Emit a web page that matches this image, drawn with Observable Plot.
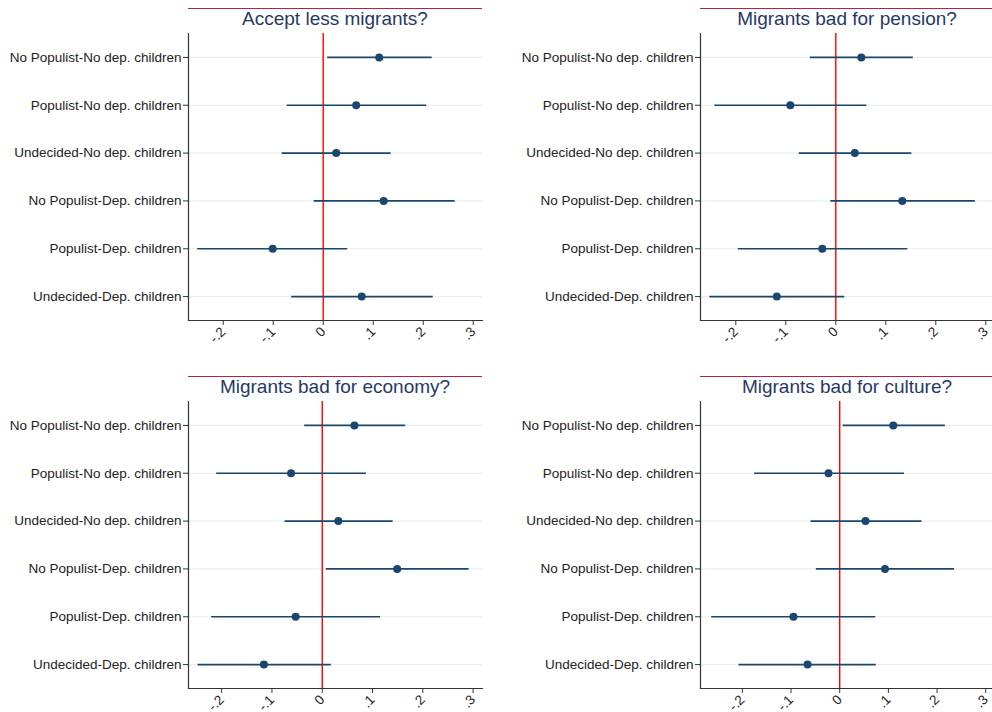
<!DOCTYPE html>
<html>
<head>
<meta charset="utf-8">
<script src="https://cdn.jsdelivr.net/npm/d3@7"></script>
<script src="https://cdn.jsdelivr.net/npm/@observablehq/plot@0.6"></script>
<style>
  html, body { margin: 0; padding: 0; background: #fff; }
  #root { position: relative; width: 992px; height: 712px; overflow: hidden; background: #fff;
          font-family: "Liberation Sans", Arial, sans-serif; }
  .panel { position: absolute; }
  .title { position: absolute; width: 294px; border-top: 1.5px solid #b8203f; text-align: center;
           font-size: 19px; line-height: 19px; color: #243a66; font-family: "Liberation Sans", Arial, sans-serif; }
</style>
</head>
<body>
<div id="root"></div>
<script>
// Categories (top to bottom)
const categories = [
  "No Populist-No dep. children",
  "Populist-No dep. children",
  "Undecided-No dep. children",
  "No Populist-Dep. children",
  "Populist-Dep. children",
  "Undecided-Dep. children"
];

// Panel titles
const titles = [
  "Accept less migrants?",
  "Migrants bad for pension?",
  "Migrants bad for economy?",
  "Migrants bad for culture?"
];

// Accept less migrants?
const acceptEst = [0.112, 0.066, 0.026, 0.121, -0.101, 0.077];
const acceptLo  = [0.008, -0.073, -0.083, -0.019, -0.252, -0.064];
const acceptHi  = [0.217, 0.206, 0.135, 0.263, 0.048, 0.219];

// Migrants bad for pension?
const pensionEst = [0.051, -0.091, 0.038, 0.133, -0.027, -0.118];
const pensionLo  = [-0.052, -0.243, -0.074, -0.011, -0.196, -0.253];
const pensionHi  = [0.154, 0.061, 0.151, 0.278, 0.143, 0.017];

// Migrants bad for economy?
const economyEst = [0.064, -0.062, 0.032, 0.149, -0.053, -0.116];
const economyLo  = [-0.036, -0.211, -0.075, 0.007, -0.221, -0.248];
const economyHi  = [0.165, 0.087, 0.140, 0.291, 0.115, 0.017];

// Migrants bad for culture?
const cultureEst = [0.110, -0.023, 0.053, 0.093, -0.095, -0.066];
const cultureLo  = [0.006, -0.176, -0.060, -0.049, -0.264, -0.208];
const cultureHi  = [0.216, 0.132, 0.168, 0.235, 0.073, 0.074];

// X tick values and labels
const xTicks = [-0.2, -0.1, 0, 0.1, 0.2, 0.3];
const xTickLabels = ["-.2", "-.1", "0", ".1", ".2", ".3"];

const navy = "#1a476f";

function panel(title, est, lo, hi, xDomain, left, top) {
  const rows = categories.map((c, i) => ({cat: c, est: est[i], lo: lo[i], hi: hi[i]}));
  const chart = Plot.plot({
    width: 496,
    height: 345,
    marginLeft: 188,
    marginRight: 14,
    marginTop: 33,
    marginBottom: 25,
    style: {fontFamily: "'Liberation Sans', Arial, sans-serif", fontSize: "13.5px", color: "#222", background: "transparent"},
    x: {domain: xDomain},
    y: {type: "point", domain: categories, padding: 0.5, round: false},
    marks: [
      Plot.ruleY(categories, {y: d => d, stroke: "#e6eff1", strokeWidth: 1.2}),
      Plot.ruleX([0], {stroke: "red", strokeWidth: 1.4}),
      Plot.link(rows, {x1: "lo", x2: "hi", y1: "cat", y2: "cat", stroke: navy, strokeWidth: 1.6}),
      Plot.dot(rows, {x: "est", y: "cat", r: 4, fill: navy, stroke: "none"}),
      Plot.frame({anchor: "left", stroke: "#333", strokeWidth: 1.2}),
      Plot.frame({anchor: "bottom", stroke: "#333", strokeWidth: 1.2}),
      Plot.axisY({tickSize: 5, tickPadding: 2, fontSize: 13.5, stroke: "#333", fill: "#222", label: null}),
      Plot.axisX({ticks: xTicks, tickFormat: (d) => xTickLabels[xTicks.indexOf(d)] ?? "",
                  tickSize: 5, tickPadding: 4, tickRotate: -45, fontSize: 13.5, stroke: "#333", fill: "#222",
                  label: null})
    ]
  });
  chart.classList.add("panel");
  chart.style.left = left + "px";
  chart.style.top = top + "px";
  const root = document.getElementById("root");
  root.appendChild(chart);
  const t = document.createElement("div");
  t.className = "title";
  t.textContent = title;
  t.style.left = (left + 188) + "px";
  t.style.top = (top + 8) + "px";
  root.appendChild(t);
}

panel(titles[0], acceptEst, acceptLo, acceptHi, [-0.2694, 0.3186], 0, 0);
panel(titles[1], pensionEst, pensionLo, pensionHi, [-0.2706, 0.3174], 512, 0);
panel(titles[2], economyEst, economyLo, economyHi, [-0.266, 0.3187], 0, 368);
panel(titles[3], cultureEst, cultureLo, cultureHi, [-0.286, 0.318], 512, 368);
</script>
</body>
</html>
